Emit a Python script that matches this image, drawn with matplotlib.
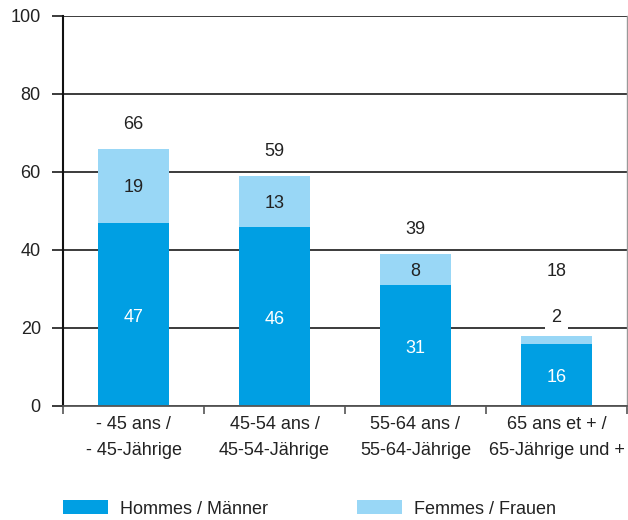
import matplotlib
matplotlib.use("Agg")
import matplotlib.pyplot as plt
from matplotlib.patches import Patch

categories = ["- 45 ans /\n- 45-Jährige", "45-54 ans /\n45-54-Jährige",
              "55-64 ans /\n55-64-Jährige", "65 ans et + /\n65-Jährige und +"]
hommes = [47, 46, 31, 16]
femmes = [19, 13, 8, 2]
totals = [66, 59, 39, 18]
series_names = ["Hommes / Männer", "Femmes / Frauen"]
yticks = [0, 20, 40, 60, 80, 100]

dark = "#009FE3"
light = "#99D7F6"
txt = "#222222"
fs = 13

plt.rcParams['font.family'] = ['Liberation Sans', 'DejaVu Sans']

fig = plt.figure(figsize=(6.28, 5.20), dpi=100)
ax = fig.add_axes([63/628, 1-406/520, 564/628, 390/520])

x = list(range(len(categories)))
ax.set_axisbelow(True)
ax.bar(x, hommes, width=0.5, color=dark, zorder=2)
ax.bar(x, femmes, width=0.5, bottom=hommes, color=light, zorder=2)

for i in x:
    h, f, t = hommes[i], femmes[i], totals[i]
    ax.text(i, h/2 - 0.8, str(h), ha='center', va='center', color='white', fontsize=fs, zorder=3)
    if f >= 5:
        ax.text(i, h + f/2 - 0.5, str(f), ha='center', va='center', color=txt, fontsize=fs, zorder=3)
        ax.text(i, t + 6.3, str(t), ha='center', va='center', color=txt, fontsize=fs, zorder=3)
    else:
        ax.text(i, t + 4.6, str(f), ha='center', va='center', color=txt, fontsize=fs, zorder=3,
                bbox=dict(facecolor='white', edgecolor='none', pad=5))
        ax.text(i, t + 16.4, str(t), ha='center', va='center', color=txt, fontsize=fs, zorder=3)

ax.set_xlim(-0.5, len(categories) - 0.5)
ax.set_ylim(0, 100)
ax.set_yticks(yticks)
ax.set_yticklabels([str(v) for v in yticks], fontsize=fs, color=txt)
ax.yaxis.grid(True, color='#1a1a1a', linewidth=1.2)
ax.tick_params(axis='y', length=8, width=1.2, color='#1a1a1a', pad=8)

ax.set_xticks([i - 0.5 for i in range(len(categories) + 1)])
ax.set_xticklabels([])
ax.set_xticks(x, minor=True)
ax.set_xticklabels(categories, minor=True, fontsize=fs, color=txt, linespacing=1.7)
ax.tick_params(axis='x', which='major', length=6, width=1.2, color='#555555', direction='out')
ax.tick_params(axis='x', which='minor', length=0, pad=7)

ax.spines['top'].set_visible(False)
ax.spines['left'].set_color('#111111')
ax.spines['left'].set_linewidth(1.5)
ax.spines['bottom'].set_color('#555555')
ax.spines['bottom'].set_linewidth(1.3)
ax.spines['right'].set_color('#999999')
ax.spines['right'].set_linewidth(1.0)

handles = [Patch(facecolor=dark, edgecolor='none'), Patch(facecolor=light, edgecolor='none')]
fig.legend(handles, series_names, loc='center left', bbox_to_anchor=(63/628, 1-509/520),
           ncol=2, frameon=False, fontsize=fs, borderpad=0, borderaxespad=0,
           handlelength=2.5, handleheight=0.8, handletextpad=0.65, columnspacing=4.95,
           labelcolor=txt)

fig.savefig("out.png", dpi=100)
